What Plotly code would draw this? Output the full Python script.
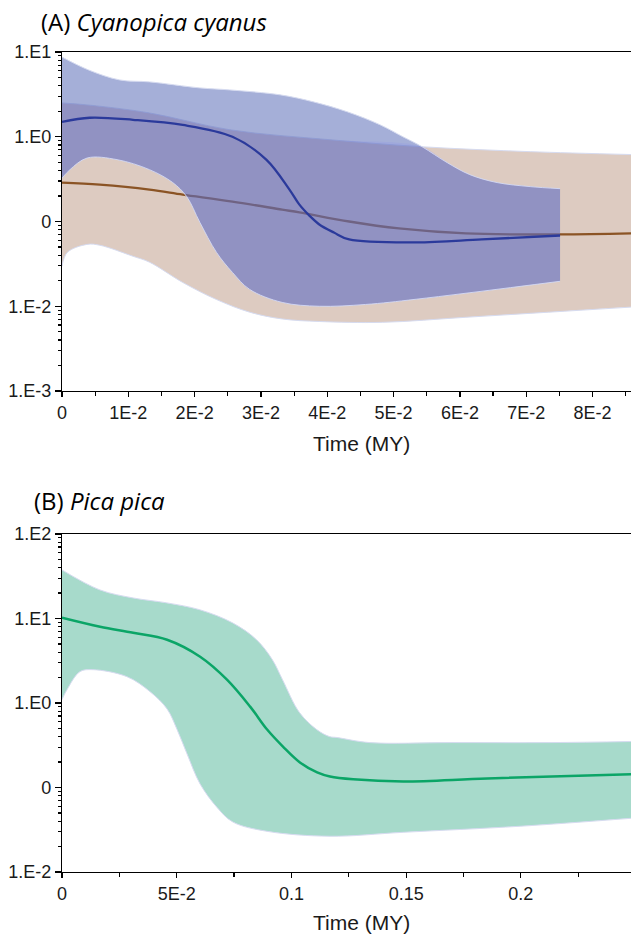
import numpy as np
import plotly.graph_objects as go

# ---------------- Panel A: Cyanopica cyanus ----------------
a_blue_up_x = [0, 0.004, 0.0087, 0.0132, 0.0208, 0.0253, 0.0329, 0.0379, 0.043, 0.048, 0.0514, 0.0543, 0.0581, 0.0615, 0.0656, 0.0706, 0.0751]
a_blue_up = [8.71, 6.14, 4.68, 4.44, 3.77, 3.57, 3.12, 2.58, 1.97, 1.38, 1.0, 0.762, 0.494, 0.357, 0.288, 0.258, 0.244]

a_blue_lo_x = [0, 0.0012, 0.0038, 0.0083, 0.0132, 0.0167, 0.0188, 0.0208, 0.0233, 0.0257, 0.0283, 0.0332, 0.0388, 0.0458, 0.0534, 0.0751]
a_blue_lo = [0.324, 0.409, 0.562, 0.537, 0.409, 0.288, 0.197, 0.0973, 0.0432, 0.0251, 0.0158, 0.0111, 0.0100, 0.0105, 0.0121, 0.0197]

a_blue_med_x = [0, 0.0042, 0.0107, 0.0182, 0.0257, 0.0308, 0.0343, 0.0358, 0.0373, 0.0388, 0.041, 0.0433, 0.0534, 0.0633, 0.0751]
a_blue_med = [1.5, 1.675, 1.585, 1.38, 1.0, 0.537, 0.238, 0.158, 0.1175, 0.0923, 0.0741, 0.0614, 0.0566, 0.0614, 0.0684]

a_brown_up_x = [0, 0.0042, 0.0132, 0.0253, 0.0404, 0.0543, 0.0706, 0.0858]
a_brown_up = [2.51, 2.36, 1.91, 1.21, 0.923, 0.762, 0.667, 0.617]

a_brown_lo_x = [0, 0.0008, 0.0038, 0.0057, 0.0107, 0.0132, 0.0182, 0.0233, 0.0283, 0.0332, 0.0388, 0.0483, 0.0609, 0.0734, 0.0858]
a_brown_lo = [0.0295, 0.0432, 0.0537, 0.0525, 0.0389, 0.0331, 0.0191, 0.0120, 0.00851, 0.00708, 0.00661, 0.00646, 0.00741, 0.00851, 0.00977]

a_brown_med_x = [0, 0.0057, 0.0132, 0.0182, 0.0257, 0.0332, 0.0358, 0.0433, 0.0508, 0.0609, 0.0751, 0.0858]
a_brown_med = [0.288, 0.272, 0.238, 0.208, 0.172, 0.138, 0.128, 0.100, 0.0828, 0.0723, 0.0703, 0.0723]

a_cross_x = 0.0543  # where the two upper HPD bounds meet

a_xticks = [0, 0.01, 0.02, 0.03, 0.04, 0.05, 0.06, 0.07, 0.08]
a_xticktext = ["0", "1E-2", "2E-2", "3E-2", "4E-2", "5E-2", "6E-2", "7E-2", "8E-2"]
a_yticks = [1e-3, 1e-2, 1e-1, 1, 10]
a_yticktext = ["1.E-3", "1.E-2", "0", "1.E0", "1.E1"]

# ---------------- Panel B: Pica pica ----------------
b_up_x = [0, 0.0165, 0.031, 0.0457, 0.06, 0.0743, 0.0848, 0.0917, 0.0961, 0.1035, 0.111, 0.1165, 0.12, 0.134, 0.17, 0.2135, 0.248]
b_up = [37.6, 21.8, 17.5, 15.3, 12.7, 8.89, 5.61, 3.25, 1.89, 0.771, 0.485, 0.401, 0.39, 0.34, 0.34, 0.34, 0.35]

b_lo_x = [0, 0.0022, 0.0078, 0.0135, 0.0283, 0.0384, 0.0458, 0.0501, 0.0545, 0.0602, 0.0676, 0.0745, 0.0894, 0.1168, 0.1487, 0.1997, 0.248]
b_lo = [1.10, 1.44, 2.35, 2.48, 2.05, 1.36, 0.85, 0.49, 0.25, 0.11, 0.058, 0.039, 0.0303, 0.0265, 0.0295, 0.0348, 0.0432]

b_med_x = [0, 0.0166, 0.031, 0.0458, 0.0602, 0.0719, 0.082, 0.0894, 0.0963, 0.1037, 0.1112, 0.1168, 0.1269, 0.1487, 0.1853, 0.248]
b_med = [10.2, 7.98, 6.78, 5.61, 3.53, 1.89, 0.906, 0.485, 0.305, 0.198, 0.151, 0.135, 0.125, 0.118, 0.128, 0.143]

b_xticks = [0, 0.05, 0.1, 0.15, 0.2]
b_xticktext = ["0", "5E-2", "0.1", "0.15", "0.2"]
b_yticks = [1e-2, 1e-1, 1, 10, 100]
b_yticktext = ["1.E-2", "0", "1.E0", "1.E1", "1.E2"]

# ---------------- styles ----------------
TAN = "rgb(221,203,193)"
BLUE_FILL = "rgba(91,110,184,0.55)"
OVERLAP_TINT = "rgba(110,105,255,0.10)"
GREEN_FILL = "rgb(167,218,203)"
EDGE = "rgba(214,219,240,1)"
BLUE_LINE = "#2B3A9B"
BROWN_LINE = "#8B5425"
GREEN_LINE = "#0BA567"
TICKFONT = dict(family="Arial", size=18, color="#1a1a1a")

fig = go.Figure()


def band(x_lo, lo, x_up, up, fill, xa, ya, edge=EDGE):
    ew = 1 if edge else 0
    fig.add_trace(go.Scatter(x=x_lo, y=lo, mode="lines",
                             line=dict(color=edge or "rgba(0,0,0,0)", width=ew, shape="spline", smoothing=1),
                             xaxis=xa, yaxis=ya, showlegend=False, hoverinfo="skip"))
    fig.add_trace(go.Scatter(x=x_up, y=up, mode="lines",
                             line=dict(color=edge or "rgba(0,0,0,0)", width=ew, shape="spline", smoothing=1),
                             fill="tonexty", fillcolor=fill, xaxis=xa, yaxis=ya, showlegend=False, hoverinfo="skip"))


def med(x, y, color, xa, ya, w=2.3):
    fig.add_trace(go.Scatter(x=x, y=y, mode="lines", line=dict(color=color, width=w, shape="spline", smoothing=1),
                             xaxis=xa, yaxis=ya, showlegend=False, hoverinfo="skip"))


# Panel A
band(a_brown_lo_x, a_brown_lo, a_brown_up_x, a_brown_up, TAN, "x", "y")
med(a_brown_med_x, a_brown_med, BROWN_LINE, "x", "y")
band(a_blue_lo_x, a_blue_lo, a_blue_up_x, a_blue_up, BLUE_FILL, "x", "y")
# overlap of the two HPD bands: upper edge is the lower of the two upper bounds
ov_x = [x for x in a_brown_up_x if x <= a_cross_x] + [x for x in a_blue_up_x if x > a_cross_x]
ov_y = [y for x, y in zip(a_brown_up_x, a_brown_up) if x <= a_cross_x] + \
       [y for x, y in zip(a_blue_up_x, a_blue_up) if x > a_cross_x]
band(a_blue_lo_x, a_blue_lo, ov_x, ov_y, OVERLAP_TINT, "x", "y", edge=None)
med(a_blue_med_x, a_blue_med, BLUE_LINE, "x", "y")

# Panel B
band(b_lo_x, b_lo, b_up_x, b_up, GREEN_FILL, "x2", "y2")
med(b_med_x, b_med, GREEN_LINE, "x2", "y2", w=2.5)


def log_minor(lo_exp, hi_exp):
    return [k * 10.0 ** e for e in range(lo_exp, hi_exp) for k in range(2, 10)]


W, H = 631, 936
ML, MT, MB = 62, 52, 64
PH = H - MT - MB
PW = W - ML


def py(pix):
    return (H - MB - pix) / PH


def px(pix):
    return (pix - ML) / PW


xcommon = dict(showline=True, linecolor="black", linewidth=1.2, mirror=True, ticks="outside", ticklen=5,
               tickwidth=1.2, tickcolor="black", showgrid=False, zeroline=False, tickfont=TICKFONT,
               tickmode="array")
ycommon = dict(type="log", showline=True, linecolor="black", linewidth=1.2, ticks="outside", ticklen=6,
               tickwidth=1.2, tickcolor="black", showgrid=False, zeroline=False, tickfont=TICKFONT,
               tickmode="array")

fig.update_layout(
    width=W, height=H,
    margin=dict(l=ML, r=0, t=MT, b=MB),
    paper_bgcolor="white", plot_bgcolor="white",
    showlegend=False,
    xaxis=dict(domain=[0, 1], anchor="y", range=[0, 0.0858], tickvals=a_xticks, ticktext=a_xticktext,
               minor=dict(tickmode="array", tickvals=[v + 0.005 for v in a_xticks], ticks="outside", ticklen=4,
                          tickwidth=1.2, tickcolor="black"), **xcommon),
    yaxis=dict(domain=[py(391), 1], anchor="x", range=[-3, 1], tickvals=a_yticks, ticktext=a_yticktext,
               minor=dict(tickmode="array", tickvals=log_minor(-3, 1), ticks="outside", ticklen=3,
                          tickwidth=1.2, tickcolor="black"), **ycommon),
    xaxis2=dict(domain=[0, 1], anchor="y2", range=[0, 0.248], tickvals=b_xticks, ticktext=b_xticktext,
                minor=dict(tickmode="array", tickvals=[v + 0.025 for v in b_xticks], ticks="outside", ticklen=4,
                           tickwidth=1.2, tickcolor="black"), **xcommon),
    yaxis2=dict(domain=[0, py(534)], anchor="x2", range=[-2, 2], tickvals=b_yticks, ticktext=b_yticktext,
                minor=dict(tickmode="array", tickvals=log_minor(-2, 2), ticks="outside", ticklen=3,
                           tickwidth=1.2, tickcolor="black"), **ycommon),
)

TITLEFONT = dict(family="Open Sans", size=24, color="black")
AXTITLEFONT = dict(family="Arial", size=21, color="#1a1a1a")
fig.add_annotation(text="(A) <i>Cyanopica cyanus</i>", xref="paper", yref="paper", x=px(39), y=py(22),
                   xanchor="left", yanchor="middle", showarrow=False, font=TITLEFONT)
fig.add_annotation(text="(B) <i>Pica pica</i>", xref="paper", yref="paper", x=px(32), y=py(500),
                   xanchor="left", yanchor="middle", showarrow=False, font=TITLEFONT)
fig.add_annotation(text="Time (MY)", xref="paper", yref="paper", x=px(361), y=py(443),
                   xanchor="center", yanchor="middle", showarrow=False, font=AXTITLEFONT)
fig.add_annotation(text="Time (MY)", xref="paper", yref="paper", x=px(361), y=py(922),
                   xanchor="center", yanchor="middle", showarrow=False, font=AXTITLEFONT)

fig.write_html("out.html", config={"displayModeBar": False, "staticPlot": True},
               post_script="document.body.style.margin='0';document.body.style.overflow='hidden';")
